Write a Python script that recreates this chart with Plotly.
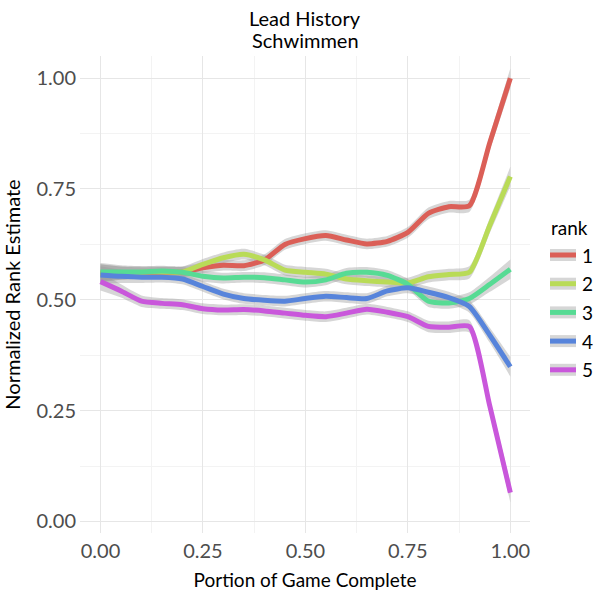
import plotly.graph_objects as go

# ---- data ----
portion = [0, 0.05, 0.1, 0.15, 0.2, 0.25, 0.3, 0.35, 0.4, 0.45, 0.5,
           0.55, 0.6, 0.65, 0.7, 0.75, 0.8, 0.85, 0.9, 0.95, 1.0]

rank_1 = [0.56, 0.56, 0.56, 0.562, 0.563, 0.572, 0.578, 0.577, 0.59, 0.625, 0.638,
          0.645, 0.635, 0.626, 0.632, 0.652, 0.695, 0.71, 0.712, 0.855, 1.0]
rank_2 = [0.56, 0.56, 0.562, 0.563, 0.563, 0.58, 0.595, 0.603, 0.59, 0.567, 0.562,
          0.558, 0.547, 0.543, 0.54, 0.538, 0.552, 0.557, 0.562, 0.668, 0.778]
rank_3 = [0.563, 0.563, 0.563, 0.565, 0.562, 0.553, 0.549, 0.551, 0.55, 0.545, 0.54,
          0.545, 0.56, 0.562, 0.555, 0.535, 0.497, 0.493, 0.503, 0.535, 0.569]
rank_4 = [0.556, 0.553, 0.551, 0.551, 0.547, 0.53, 0.513, 0.503, 0.499, 0.497, 0.503,
          0.508, 0.505, 0.503, 0.52, 0.527, 0.517, 0.505, 0.485, 0.42, 0.349]
rank_5 = [0.541, 0.52, 0.497, 0.492, 0.489, 0.48, 0.477, 0.478, 0.475, 0.47, 0.465,
          0.462, 0.47, 0.479, 0.472, 0.462, 0.44, 0.438, 0.44, 0.26, 0.065]

# half-width of the grey confidence band
band_se = [0.02, 0.015, 0.013, 0.012, 0.012, 0.012, 0.012, 0.012, 0.012, 0.012, 0.012,
           0.012, 0.012, 0.012, 0.012, 0.012, 0.013, 0.013, 0.014, 0.017, 0.022]

rank_labels = ["1", "2", "3", "4", "5"]
series = [rank_1, rank_2, rank_3, rank_4, rank_5]
colors = ["#DB5F57", "#B9DB57", "#57DB94", "#5784DB", "#C957DB"]

x_ticks = [0, 0.25, 0.5, 0.75, 1.0]
x_tick_text = ["0.00", "0.25", "0.50", "0.75", "1.00"]
y_ticks = [0, 0.25, 0.5, 0.75, 1.0]
y_tick_text = ["0.00", "0.25", "0.50", "0.75", "1.00"]

FONT = "Lato"
BAND = "rgba(153,153,153,0.4)"
SMOOTH = 0.6

fig = go.Figure()

# bands
for vals in series:
    upper = [v + s for v, s in zip(vals, band_se)]
    lower = [v - s for v, s in zip(vals, band_se)]
    fig.add_trace(go.Scatter(x=portion, y=upper, mode="lines",
                             line=dict(width=0, shape="spline", smoothing=SMOOTH),
                             showlegend=False, hoverinfo="skip"))
    fig.add_trace(go.Scatter(x=portion, y=lower, mode="lines",
                             line=dict(width=0, shape="spline", smoothing=SMOOTH),
                             fill="tonexty", fillcolor=BAND,
                             showlegend=False, hoverinfo="skip"))

# lines
for vals, c, lab in zip(series, colors, rank_labels):
    fig.add_trace(go.Scatter(x=portion, y=vals, mode="lines", name=lab,
                             line=dict(color=c, width=5, shape="spline", smoothing=SMOOTH),
                             showlegend=False))

# layout geometry (pixels)
plot_top, plot_bottom = 56, 533
plot_left, plot_right = 80, 530
pw = plot_right - plot_left
ph = plot_bottom - plot_top

def px_to_paper_x(px):
    return (px - plot_left) / pw

def py_to_paper_y(py):
    return (plot_bottom - py) / ph

shapes = []
annotations = []

# title (two lines)
for txt, cy in (("Lead History", 18), ("Schwimmen", 40)):
    annotations.append(dict(text=txt, x=px_to_paper_x(305), y=py_to_paper_y(cy),
                            xref="paper", yref="paper", xanchor="center", yanchor="middle",
                            showarrow=False, font=dict(family=FONT, size=20, color="#000000")))

# manual legend (ggplot style keys)
annotations.append(dict(text="rank", x=px_to_paper_x(549), y=py_to_paper_y(227),
                        xref="paper", yref="paper", xanchor="left", yanchor="middle",
                        showarrow=False, font=dict(family=FONT, size=19, color="#000000")))
for i, (c, lab) in enumerate(zip(colors, rank_labels)):
    cy = 255 + 28.7 * i
    shapes.append(dict(type="rect", xref="paper", yref="paper",
                       x0=px_to_paper_x(550), x1=px_to_paper_x(576),
                       y0=py_to_paper_y(cy + 6), y1=py_to_paper_y(cy - 6),
                       fillcolor="#d6d6d6", line=dict(width=0)))
    shapes.append(dict(type="line", xref="paper", yref="paper",
                       x0=px_to_paper_x(550), x1=px_to_paper_x(576),
                       y0=py_to_paper_y(cy), y1=py_to_paper_y(cy),
                       line=dict(color=c, width=5)))
    annotations.append(dict(text=lab, x=px_to_paper_x(580), y=py_to_paper_y(cy),
                            xref="paper", yref="paper", xanchor="left", yanchor="middle",
                            showarrow=False, font=dict(family=FONT, size=19, color="#000000")))

fig.update_layout(
    width=600, height=600,
    margin=dict(l=plot_left, r=600 - plot_right, t=plot_top, b=600 - plot_bottom),
    paper_bgcolor="white", plot_bgcolor="white",
    showlegend=False,
    shapes=shapes,
    annotations=annotations,
    xaxis=dict(range=[-0.05, 1.048], tickvals=x_ticks, ticktext=x_tick_text,
               showgrid=True, gridcolor="#e6e6e6", gridwidth=1.2, zeroline=False,
               showline=False, ticks="", ticklabelstandoff=4,
               minor=dict(showgrid=True, gridcolor="#f3f3f3", gridwidth=1, dtick=0.125, tick0=0),
               tickfont=dict(family=FONT, size=20, color="#4d4d4d"),
               title=dict(text="Portion of Game Complete", standoff=12,
                          font=dict(family=FONT, size=19, color="#000000"))),
    yaxis=dict(range=[-0.026, 1.05], tickvals=y_ticks, ticktext=y_tick_text,
               showgrid=True, gridcolor="#e6e6e6", gridwidth=1.2, zeroline=False,
               showline=False, ticks="", ticklabelstandoff=3,
               minor=dict(showgrid=True, gridcolor="#f3f3f3", gridwidth=1, dtick=0.125, tick0=0),
               tickfont=dict(family=FONT, size=20, color="#4d4d4d"),
               title=dict(text="Normalized Rank Estimate", standoff=10,
                          font=dict(family=FONT, size=20, color="#000000"))),
)

fig.write_html("out.html")
